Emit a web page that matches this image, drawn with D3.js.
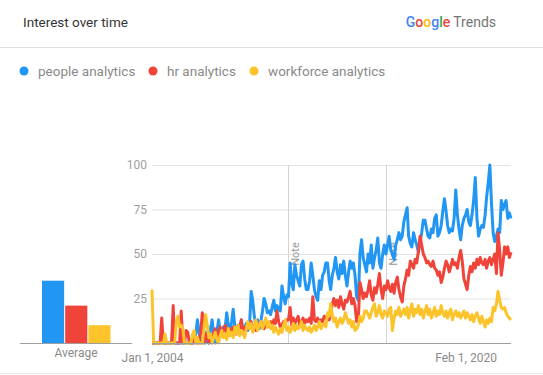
<!DOCTYPE html>
<html>
<head>
<meta charset="utf-8">
<script src="https://cdn.jsdelivr.net/npm/d3@7"></script>
<style>
  html, body { margin: 0; padding: 0; background: #fff; }
  svg { display: block; font-family: Roboto, "Noto Sans", Arial, sans-serif; }
</style>
</head>
<body>
<svg id="chart" width="543" height="375"></svg>
<script>
// Monthly search interest, Jan 2004 – Jun 2022 (0–100 scale)
const seriesNames = ["people analytics", "hr analytics", "workforce analytics"];
const seriesColors = ["#2196f3", "#f0443a", "#fcc42a"];

const peopleAnalytics = [
  0,0,0,0,0,0,0,0,0,0,0,0,
  0,0,0,0,0,0,0,0,0,0,0,0,
  0,0,0,5,13,6,0,0,7,0,6,0,
  8,13,5,0,6,13,7,5,9,8,17,10,
  6,12,19,9,7,10,6,13,5,8,11,7,
  10,29,24,15,10,13,8,12,18,25,22,17,
  18,16,20,24,18,21,19,18,32,26,22,27,
  26,45,34,30,44,38,35,32,44,46,36,30,
  30,35,45,38,30,26,24,35,30,38,40,45,
  45,35,30,38,42,48,40,36,44,39,46,38,
  32,40,46,42,45,38,26,24,50,58,48,44,
  40,50,45,55,42,48,52,59,45,42,50,55,
  50,55,60,52,50,47,55,58,62,58,60,68,
  72,76,60,56,54,62,58,55,51,56,62,69,
  69,64,60,59,64,62,70,72,60,62,66,74,
  81,74,66,62,64,63,70,86,72,64,58,66,
  70,72,75,68,66,72,80,93,70,60,64,66,
  65,72,82,90,100,78,62,57,60,64,62,80,
  75,78,80,70,73,70
];

const hrAnalytics = [
  0,0,0,0,0,0,14,0,0,0,0,0,
  0,21,0,0,0,0,18,0,0,7,6,0,
  0,0,4,0,0,0,6,17,0,5,3,0,
  4,0,6,8,3,5,9,4,7,10,6,5,
  8,6,9,7,5,10,8,13,6,9,7,10,
  9,12,8,10,7,11,9,12,10,8,11,9,
  10,12,9,13,11,18,12,9,10,12,11,13,
  13,20,10,14,11,13,15,10,12,14,11,13,
  12,14,11,26,13,12,14,11,13,12,15,14,
  14,13,16,22,25,21,24,20,26,22,19,24,
  23,26,29,22,25,21,12,13,34,30,25,28,
  26,30,35,27,24,31,28,33,39,30,25,32,
  30,35,31,29,33,28,34,37,30,26,23,32,
  36,41,38,46,44,42,47,45,52,60,55,50,
  48,45,46,44,43,46,42,41,38,40,34,37,
  42,46,44,40,43,47,44,45,42,48,52,46,
  36,33,30,38,43,40,45,42,47,44,48,45,
  44,47,42,46,48,44,47,50,39,62,52,38,
  45,54,50,54,48,51
];

const workforceAnalytics = [
  30,0,0,0,0,0,0,0,5,0,0,0,
  0,0,0,12,15,9,10,8,0,0,0,0,
  0,5,7,0,3,0,0,0,8,16,10,3,
  5,0,3,6,2,0,4,7,3,5,2,8,
  4,6,3,9,5,10,4,7,6,3,8,12,
  8,11,6,9,13,7,10,12,8,11,14,9,
  12,8,10,6,9,7,5,8,6,10,13,7,
  9,6,8,11,7,10,8,9,12,7,10,8,
  7,9,6,8,10,7,9,12,8,10,11,9,
  17,15,22,16,12,14,9,12,14,11,13,17,
  14,11,13,9,12,7,8,10,15,12,14,18,
  18,16,14,17,20,22,15,17,21,16,14,18,
  17,15,19,20,7,14,18,16,20,15,17,19,
  16,20,14,18,22,15,19,17,21,16,19,14,
  18,21,16,19,14,17,20,15,18,16,21,17,
  15,18,14,17,19,13,16,18,15,17,14,16,
  18,14,17,15,13,16,12,15,17,14,11,15,
  12,9,13,11,14,12,20,18,22,29,24,20,
  19,20,17,15,14,13
];

const averages = [35, 21, 10];
const yTicks = [25, 50, 75, 100];
const xTickDates = [new Date(Date.UTC(2004, 0, 1)), new Date(Date.UTC(2020, 1, 1))];
const xTickLabels = ["Jan 1, 2004", "Feb 1, 2020"];
const noteDates = [new Date(Date.UTC(2011, 0, 1)), new Date(Date.UTC(2016, 0, 1))];

const allSeries = [peopleAnalytics, hrAnalytics, workforceAnalytics];
const months = d3.range(peopleAnalytics.length).map(i => new Date(Date.UTC(2004, i, 1)));

const svg = d3.select("#chart");

// Header
svg.append("text").attr("x", 23).attr("y", 27)
  .attr("font-size", 13.5).attr("fill", "#333")
  .text("Interest over time");

const brand = svg.append("text").attr("x", 496).attr("y", 27)
  .attr("text-anchor", "end").attr("font-size", 14);
const gLetters = [["G", "#4285f4"], ["o", "#ea4335"], ["o", "#fbbc05"], ["g", "#4285f4"], ["l", "#34a853"], ["e", "#ea4335"]];
gLetters.forEach(([ch, c]) => brand.append("tspan").attr("fill", c).attr("font-weight", 500).text(ch));
brand.append("tspan").attr("fill", "#757575").attr("dx", 3).text("Trends");

svg.append("line").attr("x1", 0).attr("x2", 543).attr("y1", 47.5).attr("y2", 47.5)
  .attr("stroke", "#e0e0e0");
svg.append("line").attr("x1", 0).attr("x2", 543).attr("y1", 373.5).attr("y2", 373.5)
  .attr("stroke", "#e6e6e6");

// Legend
const legendX = [24, 153, 254];
seriesNames.forEach((name, i) => {
  svg.append("circle").attr("cx", legendX[i]).attr("cy", 71).attr("r", 4.5)
    .attr("fill", seriesColors[i]);
  svg.append("text").attr("x", legendX[i] + 14).attr("y", 76)
    .attr("font-size", 13.5).attr("fill", "#8a8a8a").text(name);
});

// Scales
const y = d3.scaleLinear().domain([0, 100]).range([343, 165]);
const x = d3.scaleUtc().domain([months[0], months[months.length - 1]]).range([152, 511]);

// Gridlines and y-axis labels
const yAxis = d3.axisLeft(y).tickValues(yTicks).tickSize(-(511 - 152)).tickPadding(5);
const gy = svg.append("g").attr("transform", "translate(152,0)").call(yAxis);
gy.select(".domain").remove();
gy.selectAll(".tick line").attr("stroke", "#e3e3e3");
gy.selectAll(".tick text").attr("fill", "#a0a0a0").attr("font-size", 12)
  .attr("font-family", "Roboto, sans-serif");

// Note markers
noteDates.forEach(d => {
  const nx = Math.round(x(d)) + 0.5;
  svg.append("line").attr("x1", nx).attr("x2", nx).attr("y1", 165).attr("y2", 343)
    .attr("stroke", "#d4d4d4");
  svg.append("text").attr("transform", `translate(${nx + 10},254) rotate(-90)`)
    .attr("text-anchor", "middle").attr("font-size", 11).attr("fill", "#9a9a9a")
    .text("Note");
});

// x-axis labels
const xAxis = d3.axisBottom(x).tickValues(xTickDates)
  .tickFormat((d, i) => xTickLabels[i]).tickSize(0).tickPadding(10);
const gx = svg.append("g").attr("transform", "translate(0,343)").call(xAxis);
gx.select(".domain").remove();
gx.selectAll(".tick text").attr("fill", "#8a8a8a").attr("font-size", 12)
  .attr("font-family", "Roboto, sans-serif");

// Lines
const line = d3.line().x((d, i) => x(months[i])).y(d => y(d)).curve(d3.curveLinear);
allSeries.forEach((vals, i) => {
  svg.append("path").datum(vals).attr("d", line).attr("fill", "none")
    .attr("stroke", seriesColors[i]).attr("stroke-width", 3)
    .attr("stroke-linejoin", "round");
});

// Baseline of the time chart
svg.append("line").attr("x1", 152).attr("x2", 511).attr("y1", 343.5).attr("y2", 343.5)
  .attr("stroke", "#9e9e9e");

// Average bars
const xb = d3.scaleBand().domain(seriesNames).range([42, 110.5]).paddingInner(0.045);
svg.append("g").selectAll("rect").data(averages).join("rect")
  .attr("x", (d, i) => xb(seriesNames[i]))
  .attr("width", xb.bandwidth())
  .attr("y", d => y(d)).attr("height", d => y(0) - y(d))
  .attr("fill", (d, i) => seriesColors[i]);
svg.append("line").attr("x1", 20).attr("x2", 132).attr("y1", 343.5).attr("y2", 343.5)
  .attr("stroke", "#9e9e9e");
svg.append("text").attr("x", 76).attr("y", 357).attr("text-anchor", "middle")
  .attr("font-size", 12).attr("fill", "#8a8a8a").text("Average");
</script>
</body>
</html>
